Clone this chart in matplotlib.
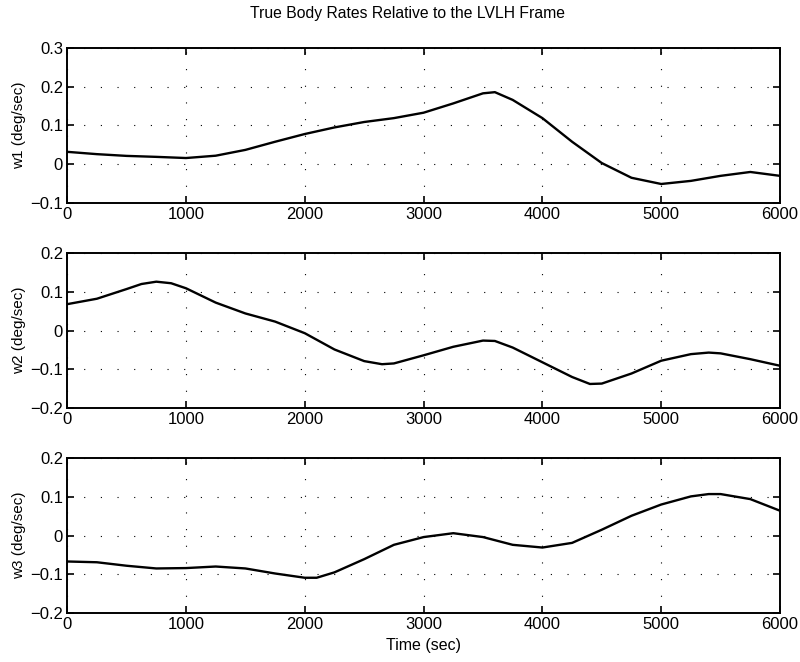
import matplotlib
matplotlib.use('Agg')
import matplotlib.pyplot as plt

# ______________________________________________________________________________
# Data (time in sec, rates in deg/sec)

t1 = [0, 250, 500, 750, 1000, 1250, 1500, 1750, 2000, 2250, 2500, 2750,
      3000, 3250, 3500, 3600, 3750, 4000, 4250, 4500, 4750, 5000, 5250,
      5500, 5750, 6000]
w1 = [0.032, 0.026, 0.0215, 0.019, 0.016, 0.022, 0.037, 0.058, 0.078, 0.095,
      0.109, 0.119, 0.133, 0.157, 0.183, 0.186, 0.166, 0.119, 0.058, 0.003,
      -0.035, -0.051, -0.043, -0.030, -0.020, -0.030]

t2 = [0, 250, 500, 625, 750, 875, 1000, 1250, 1500, 1750, 2000, 2250, 2500,
      2650, 2750, 3000, 3250, 3500, 3600, 3750, 4000, 4250, 4400, 4500, 4750,
      5000, 5250, 5400, 5500, 5750, 6000]
w2 = [0.068, 0.082, 0.107, 0.120, 0.126, 0.122, 0.109, 0.072, 0.044, 0.023,
      -0.007, -0.049, -0.079, -0.087, -0.085, -0.064, -0.042, -0.026, -0.027,
      -0.044, -0.082, -0.120, -0.138, -0.137, -0.111, -0.078, -0.061, -0.057,
      -0.059, -0.074, -0.091]

t3 = [0, 250, 500, 750, 1000, 1250, 1500, 1750, 2000, 2100, 2250, 2500, 2750,
      3000, 3250, 3500, 3750, 4000, 4250, 4500, 4750, 5000, 5250, 5400, 5500,
      5750, 6000]
w3 = [-0.067, -0.069, -0.078, -0.085, -0.084, -0.080, -0.085, -0.098, -0.109,
      -0.109, -0.095, -0.061, -0.024, -0.004, 0.006, -0.004, -0.024, -0.031,
      -0.019, 0.015, 0.051, 0.080, 0.101, 0.107, 0.107, 0.094, 0.064]

times = [t1, t2, t3]
series = [w1, w2, w3]
ylabels = ['w1 (deg/sec)', 'w2 (deg/sec)', 'w3 (deg/sec)']
ylims = [(-0.1, 0.3), (-0.2, 0.2), (-0.2, 0.2)]
yticks = [[-0.1, 0, 0.1, 0.2, 0.3], [-0.2, -0.1, 0, 0.1, 0.2],
          [-0.2, -0.1, 0, 0.1, 0.2]]
xticks = [0, 1000, 2000, 3000, 4000, 5000, 6000]

plt.rcParams['font.family'] = ['Liberation Sans', 'DejaVu Sans']
plt.rcParams['font.size'] = 11.5

fig = plt.figure(figsize=(8, 6.62), dpi=100)

# axes boxes [left, bottom, width, height] in figure fraction
boxes = [[0.084, 0.6934, 0.891, 0.2341],
         [0.084, 0.3837, 0.891, 0.2341],
         [0.084, 0.0740, 0.891, 0.2341]]


def fmt(v):
    if v == 0:
        return '0'
    return ('%g' % v).replace('-', '\u2212')


for box, x, y, lab, lim, yt in zip(boxes, times, series, ylabels, ylims, yticks):
    ax = fig.add_axes(box)
    ax.plot(x, y, color='black', linewidth=1.7, solid_joinstyle='round')
    ax.set_xlim(0, 6000)
    ax.set_ylim(*lim)
    ax.set_xticks(xticks)
    ax.set_yticks(yt)
    ax.set_yticklabels([fmt(v) for v in yt])
    ax.set_ylabel(lab, labelpad=3, fontsize=11)
    ax.grid(True, color='black', linestyle=(0, (1, 14)), linewidth=0.8)
    ax.tick_params(direction='in', top=True, right=True, length=5,
                   width=1.2, labelsize=12, pad=3)
    for s in ax.spines.values():
        s.set_linewidth(1.4)

ax.set_xlabel('Time (sec)', labelpad=4, fontsize=11.5)
fig.text(0.51, 0.979, 'True Body Rates Relative to the LVLH Frame',
         ha='center', va='center', fontsize=11.3)

fig.savefig('out.png', dpi=100)
